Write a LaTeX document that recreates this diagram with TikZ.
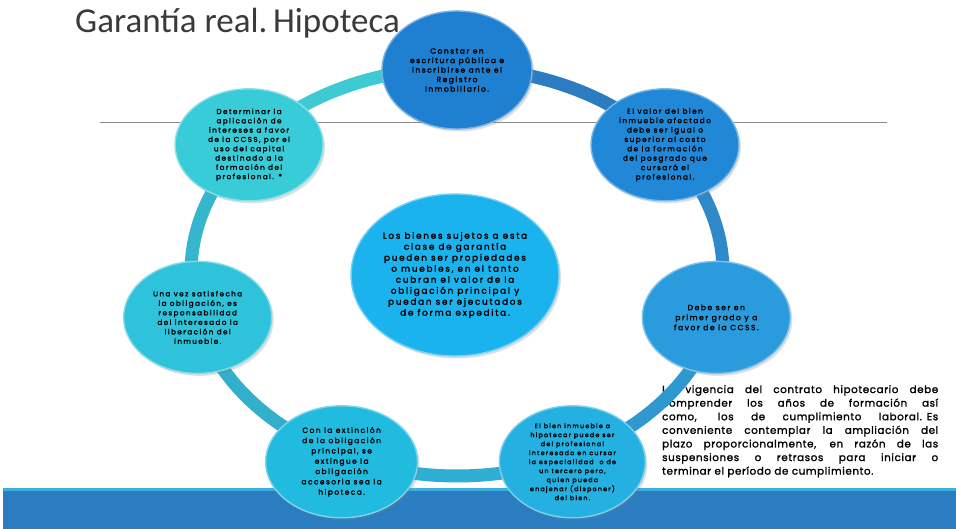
\documentclass[tikz,border=0pt]{standalone}
\usepackage{fontspec}
\setmainfont{Carlito}
\newfontfamily\gothic{Poppins}[LetterSpace=20, FakeBold=2.2]
\newfontfamily\gothicb{Poppins}[LetterSpace=6, FakeBold=1.5]
\usetikzlibrary{shapes.geometric,calc,shadows}
\definecolor{titlegray}{HTML}{3A3A3A}
\definecolor{rulegray}{HTML}{8A8A8A}
\definecolor{barblue}{HTML}{2A7DC0}
\definecolor{barlight}{HTML}{3DAEDF}
\definecolor{rA}{HTML}{2B7CC1}
\definecolor{rB}{HTML}{2E89C9}
\definecolor{rC}{HTML}{2F99CF}
\definecolor{rD}{HTML}{2FAED3}
\definecolor{rE}{HTML}{32B0CB}
\definecolor{rF}{HTML}{35B6CC}
\definecolor{rG}{HTML}{3DCAD3}
\definecolor{nTop}{HTML}{1F7FD1}
\definecolor{nUR}{HTML}{2088D6}
\definecolor{nR}{HTML}{2A9BDC}
\definecolor{nBR}{HTML}{24B0E0}
\definecolor{nBL}{HTML}{22BBE0}
\definecolor{nL}{HTML}{2EC3DA}
\definecolor{nUL}{HTML}{37CCD8}
\definecolor{nC}{HTML}{1BB3EE}
\newcommand{\sline}[1]{\makebox[276pt][s]{\spaceskip=3pt plus 40pt\relax #1}\\}
\begin{document}
\begin{tikzpicture}[x=1pt,y=1pt,
  bub/.style={ellipse, minimum width=148pt, minimum height=112pt, inner sep=0pt,
    align=center, text=black, line width=1.4pt,
    fill=#1, draw=#1!60!white,
    drop shadow={shadow xshift=2pt, shadow yshift=-2.5pt, opacity=0.25},
    font=\gothic\fontsize{7.5}{9.5}\selectfont},
  seg/.style={line width=13pt, draw=#1},
  ringarc/.style={x radius=266pt, y radius=204pt}
]
\useasboundingbox (0,0) rectangle (956,529);
\fill[white] (0,0) rectangle (956,529);

% title rule
\coordinate (ruleL) at (100,407);
\coordinate (ruleR) at (887,407);
\draw[rulegray, line width=0.8pt] (ruleL) -- (ruleR);

% bottom bar
\fill[barblue] (3,0) rectangle (956,39);
\fill[barlight] (3,38) rectangle (956,40.5);

% side text block
\node[anchor=north west, text width=280pt, align=left, inner sep=0pt,
  font=\gothicb\fontsize{10.3}{13.6}\selectfont] (side) at (662,144)
  {\sline{La vigencia del contrato hipotecario debe}
   \sline{comprender los años de formación así}
   \sline{como, los de cumplimiento laboral. Es}
   \sline{conveniente contemplar la ampliación del}
   \sline{plazo proporcionalmente, en razón de las}
   \sline{suspensiones o retrasos para iniciar o}
   terminar el período de cumplimiento.};

% ring
\coordinate (rc) at (457,257);
\coordinate (p1) at ($(rc)+(90:266pt and 204pt)$);
\coordinate (p2) at ($(rc)+(38.57:266pt and 204pt)$);
\coordinate (p3) at ($(rc)+(-12.86:266pt and 204pt)$);
\coordinate (p4) at ($(rc)+(-64.29:266pt and 204pt)$);
\coordinate (p5) at ($(rc)+(-115.71:266pt and 204pt)$);
\coordinate (p6) at ($(rc)+(-167.14:266pt and 204pt)$);
\coordinate (p7) at ($(rc)+(141.43:266pt and 204pt)$);
\draw[seg=rA] (p1) arc[start angle=90, end angle=38.57, ringarc];
\draw[seg=rB] (p2) arc[start angle=38.57, end angle=-12.86, ringarc];
\draw[seg=rC] (p3) arc[start angle=-12.86, end angle=-64.29, ringarc];
\draw[seg=rD] (p4) arc[start angle=-64.29, end angle=-115.71, ringarc];
\draw[seg=rE] (p5) arc[start angle=-115.71, end angle=-167.14, ringarc];
\draw[seg=rF] (p6) arc[start angle=192.86, end angle=141.43, ringarc];
\draw[seg=rG] (p7) arc[start angle=141.43, end angle=90, ringarc];

% nodes
\node[bub=nTop, minimum width=150pt, minimum height=118pt] (n1) at ($(p1)+(0,-2)$)
  {Constar en\\escritura pública e\\inscribirse ante el\\Registro\\Inmobiliario.};
\node[bub=nUR, font=\gothic\fontsize{7.3}{9.4}\selectfont] (n2) at (p2)
  {El valor del bien\\inmueble afectado\\debe ser igual o\\superior al costo\\de la formación\\del posgrado que\\cursará el\\profesional.};
\node[bub=nR, font=\gothic\fontsize{7.6}{10}\selectfont] (n3) at (p3)
  {Debe ser en\\primer grado y a\\favor de la CCSS.};
\node[bub=nBR, minimum width=146pt, font=\gothic\fontsize{6.3}{9}\selectfont] (n4) at ($(p4)+(0,-6)$)
  {El bien inmueble a\\hipotecar puede ser\\del profesional\\interesado en cursar\\la especialidad \ o de\\un tercero pero,\\quien pueda\\enajenar (disponer)\\del bien.};
\node[bub=nBL, minimum width=152pt, font=\gothic\fontsize{7.4}{10.3}\selectfont] (n5) at ($(p5)+(0,-6)$)
  {Con la extinción\\de la obligación\\principal, se\\extingue la\\obligación\\accesoria sea la\\hipoteca.};
\node[bub=nL, font=\gothic\fontsize{7.2}{9.5}\selectfont] (n6) at (p6)
  {Una vez satisfecha\\la obligación, es\\responsabilidad\\del interesado la\\liberación del\\inmueble.};
\node[bub=nUL, font=\gothic\fontsize{7.2}{9.3}\selectfont] (n7) at (p7)
  {Determinar la\\aplicación de\\intereses a favor\\de la CCSS, por el\\uso del capital\\destinado a la\\formación del\\profesional. *};
\node[bub=nC, minimum width=208pt, minimum height=162pt,
  font=\gothic\fontsize{8.8}{11}\selectfont] (nc) at (455,254)
  {Los bienes sujetos a esta\\clase de garantía\\pueden ser propiedades\\o muebles, en el tanto\\cubran el valor de la\\obligación principal y\\puedan ser ejecutados\\de forma expedita.};

% title
\node[anchor=base west, inner sep=0pt, text=titlegray,
  font=\fontsize{35}{40}\selectfont] (title) at (75,496) {Garantía real.\,Hipoteca};
\end{tikzpicture}
\end{document}
